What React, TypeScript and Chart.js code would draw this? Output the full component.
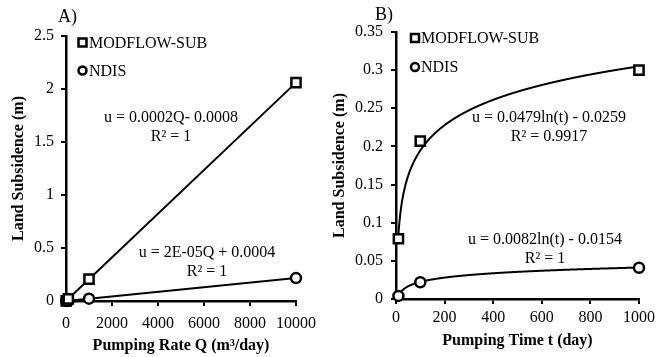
import React, { useEffect, useRef } from "react";
import { Chart, registerables } from "chart.js";

Chart.register(...registerables);

const FONT = "'Liberation Serif', 'Times New Roman', serif";
const H = 357;

// ---------- Data (panel A: pumping rate) ----------
const rateQ = [10, 100, 1000, 10000];
const rateModflow = [0.002, 0.0206, 0.206, 2.06];
const rateNdis = [0.0006, 0.0024, 0.022, 0.216];
const rateXTicks = [0, 2000, 4000, 6000, 8000, 10000];
const rateYTicks = [0, 0.5, 1, 1.5, 2, 2.5];
const rateEq1 = ["u = 0.0002Q- 0.0008", "R\u00B2 = 1"];
const rateEq2 = ["u = 2E-05Q + 0.0004", "R\u00B2 = 1"];

// ---------- Data (panel B: pumping time) ----------
const timeT = [10, 100, 1000];
const timeModflow = [0.079, 0.207, 0.3];
const timeNdis = [0.004, 0.022, 0.041];
const timeXTicks = [0, 200, 400, 600, 800, 1000];
const timeYTicks = [0, 0.05, 0.1, 0.15, 0.2, 0.25, 0.3, 0.35];
const fitModflowLn = [0.0479, -0.0259];
const fitNdisLn = [0.0082, -0.0154];
const timeEq1 = ["u = 0.0479ln(t) - 0.0259", "R\u00B2 = 0.9917"];
const timeEq2 = ["u = 0.0082ln(t) - 0.0154", "R\u00B2 = 1"];

const seriesNames = ["MODFLOW-SUB", "NDIS"];

const decorPlugin = {
  id: "decor",
  beforeDatasetsDraw(chart: any, _a: any, opts: any) {
    const tr = opts.trend;
    if (!tr) return;
    const { ctx, chartArea, scales } = chart;
    const x = scales.x;
    const y = scales.y;
    ctx.save();
    ctx.beginPath();
    ctx.rect(chartArea.left, chartArea.top, chartArea.width, chartArea.height);
    ctx.clip();
    ctx.strokeStyle = "#000";
    ctx.lineWidth = 2;
    ctx.lineJoin = "round";
    for (const t of tr) {
      const p0 = x.getPixelForValue(t.from);
      const p1 = x.getPixelForValue(t.to);
      ctx.beginPath();
      let first = true;
      for (let px = p0; px <= p1 + 0.001; px += 0.1) {
        const v = x.getValueForPixel(px);
        if (v <= 0) continue;
        const u = t.coef[0] * Math.log(v) + t.coef[1];
        const py = y.getPixelForValue(u);
        if (first) {
          ctx.moveTo(px, py);
          first = false;
        } else ctx.lineTo(px, py);
      }
      ctx.stroke();
    }
    ctx.restore();
  },
  afterDraw(chart: any, _a: any, opts: any) {
    const { ctx } = chart;
    ctx.save();
    ctx.fillStyle = "#000";
    ctx.strokeStyle = "#000";
    // panel letter
    ctx.font = `18px ${FONT}`;
    ctx.textAlign = "left";
    ctx.textBaseline = "middle";
    ctx.fillText(opts.letter, opts.letterX, opts.letterY);
    // legend
    ctx.font = `16px ${FONT}`;
    chart.data.datasets.forEach((ds: any, i: number) => {
      const cy = opts.legendY[i];
      const cx = opts.legendX;
      ctx.lineWidth = 2.5;
      ctx.fillStyle = "#fff";
      if (ds.pointStyle === "rect") {
        ctx.beginPath();
        ctx.rect(cx - 4, cy - 4, 8, 8);
        ctx.fill();
        ctx.stroke();
      } else {
        ctx.beginPath();
        ctx.arc(cx, cy, 4, 0, Math.PI * 2);
        ctx.fill();
        ctx.stroke();
      }
      ctx.fillStyle = "#000";
      ctx.textAlign = "left";
      ctx.fillText(ds.label, opts.legendTextX, cy + 1);
    });
    // equations
    ctx.textAlign = "center";
    for (const e of opts.eqs) {
      e.lines.forEach((line: string, k: number) => {
        ctx.fillText(line, e.x, e.y + k * 19);
      });
    }
    ctx.restore();
  },
};

function axis(opts: {
  ticks: number[];
  title: string;
  tickPad: number;
  titlePad: any;
  fit: (s: any) => void;
}) {
  return {
    type: "linear",
    min: opts.ticks[0],
    max: opts.ticks[opts.ticks.length - 1],
    afterBuildTicks: (s: any) => {
      s.ticks = opts.ticks.map((v) => ({ value: v }));
    },
    afterFit: opts.fit,
    ticks: {
      color: "#000",
      font: { family: FONT, size: 16 },
      padding: opts.tickPad,
      maxRotation: 0,
      autoSkip: false,
      callback: (v: any) => String(Math.round(v * 1000) / 1000),
    },
    grid: {
      drawOnChartArea: false,
      drawTicks: true,
      tickLength: 5,
      color: "#000",
      lineWidth: 2,
    },
    border: { color: "#000", width: 2.5 },
    title: {
      display: true,
      text: opts.title,
      color: "#000",
      font: { family: FONT, size: 16, weight: "bold" },
      padding: opts.titlePad,
    },
  };
}

function markerDs(label: string, style: string, xs: number[], ys: number[], line: boolean) {
  return {
    label,
    data: xs.map((x, i) => ({ x, y: ys[i] })),
    showLine: line,
    borderColor: "#000",
    borderWidth: 2,
    pointStyle: style,
    pointRadius: style === "rect" ? 6.5 : 5,
    pointBorderWidth: 2.5,
    pointBackgroundColor: "#fff",
    pointBorderColor: "#000",
    fill: false,
    clip: 8,
  };
}

function configA(): any {
  return {
    type: "scatter",
    data: {
      datasets: [
        markerDs(seriesNames[0], "rect", rateQ, rateModflow, true),
        markerDs(seriesNames[1], "circle", rateQ, rateNdis, true),
      ],
    },
    plugins: [decorPlugin],
    options: {
      animation: false,
      responsive: false,
      maintainAspectRatio: false,
      layout: { padding: { top: 36, right: 32, left: 0, bottom: 0 } },
      plugins: {
        legend: { display: false },
        tooltip: { enabled: false },
        decor: {
          letter: "A)",
          letterX: 58,
          letterY: 17,
          legendX: 82.5,
          legendTextX: 89,
          legendY: [42.5, 70.5],
          eqs: [
            { lines: rateEq1, x: 171, y: 118 },
            { lines: rateEq2, x: 207, y: 253 },
          ],
        },
      },
      scales: {
        x: axis({
          ticks: rateXTicks,
          title: "Pumping Rate Q (m\u00B3/day)",
          tickPad: 8,
          titlePad: { top: 0, bottom: 2 },
          fit: (s: any) => {
            s.height = H - 301;
          },
        }),
        y: axis({
          ticks: rateYTicks,
          title: "Land Subsidence (m)",
          tickPad: 7,
          titlePad: { top: 9, bottom: 0 },
          fit: (s: any) => {
            s.width = 66;
          },
        }),
      },
    },
  };
}

function configB(): any {
  return {
    type: "scatter",
    data: {
      datasets: [
        markerDs(seriesNames[0], "rect", timeT, timeModflow, false),
        markerDs(seriesNames[1], "circle", timeT, timeNdis, false),
      ],
    },
    plugins: [decorPlugin],
    options: {
      animation: false,
      responsive: false,
      maintainAspectRatio: false,
      layout: { padding: { top: 32, right: 27, left: 0, bottom: 0 } },
      plugins: {
        legend: { display: false },
        tooltip: { enabled: false },
        decor: {
          letter: "B)",
          letterX: 47,
          letterY: 15,
          legendX: 87,
          legendTextX: 93,
          legendY: [38, 67],
          eqs: [
            { lines: timeEq1, x: 221, y: 118 },
            { lines: timeEq2, x: 217, y: 240 },
          ],
          trend: [
            { coef: fitModflowLn, from: timeT[0], to: timeT[timeT.length - 1] },
            { coef: fitNdisLn, from: timeT[0], to: timeT[timeT.length - 1] },
          ],
        },
      },
      scales: {
        x: axis({
          ticks: timeXTicks,
          title: "Pumping Time t (day)",
          tickPad: 4,
          titlePad: { top: 0, bottom: 7 },
          fit: (s: any) => {
            s.height = H - 299;
          },
        }),
        y: axis({
          ticks: timeYTicks,
          title: "Land Subsidence (m)",
          tickPad: 8,
          titlePad: { top: 2, bottom: 0 },
          fit: (s: any) => {
            s.width = 68;
          },
        }),
      },
    },
  };
}

function Panel({ left, width, make }: { left: number; width: number; make: () => any }) {
  const ref = useRef<HTMLCanvasElement>(null);
  useEffect(() => {
    const chart = new Chart(ref.current as HTMLCanvasElement, make());
    return () => chart.destroy();
  }, []);
  return (
    <canvas
      ref={ref}
      width={width}
      height={H}
      style={{ position: "absolute", left, top: 0, width, height: H }}
    />
  );
}

export default function App() {
  return (
    <div
      style={{
        position: "absolute",
        left: 0,
        top: 0,
        width: 666,
        height: H,
        background: "#fff",
        overflow: "hidden",
      }}
    >
      <Panel left={0} width={328} make={configA} />
      <Panel left={328} width={338} make={configB} />
    </div>
  );
}
